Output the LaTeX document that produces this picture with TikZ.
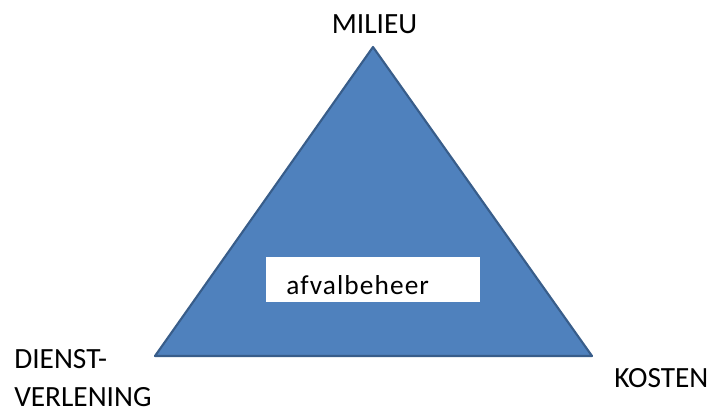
\documentclass[tikz,border=0pt]{standalone}
\usepackage{fontspec}
\setmainfont{Carlito}
\definecolor{triFill}{HTML}{4F81BD}
\definecolor{triEdge}{HTML}{385D8A}
\begin{document}
\begin{tikzpicture}[x=0.75pt,y=-0.75pt,
  corner label/.style={font=\fontsize{22}{30}\selectfont, inner sep=0pt, text=black},
  tri/.style={fill=triFill, draw=triEdge, line width=1.6pt, line join=round},
  whitebox/.style={fill=white, draw=none, minimum width=160.5pt, minimum height=33.75pt, inner sep=0pt},
  boxtext/.style={font=\fontsize{20.5}{24}\selectfont\addfontfeatures{LetterSpace=4}, inner sep=0pt}]
\useasboundingbox (0,0) rectangle (717,412);
\coordinate (apex) at (373,47);
\coordinate (bl) at (155,356);
\coordinate (br) at (592,356);
\draw[tri] (apex) -- (br) -- (bl) -- cycle;
\node[whitebox] (box) at (373,279.5) {};
\node[boxtext, anchor=base west] (boxlabel) at (286,294) {afvalbeheer};
\node[corner label, anchor=base] (milieu) at (374.5,33) {MILIEU};
\node[corner label, anchor=base west] (dienst) at (14,368) {DIENST-};
\node[corner label, anchor=base west] (verlening) at (14,406.5) {VERLENING};
\node[corner label, anchor=base west] (kosten) at (614,387) {KOSTEN};
\end{tikzpicture}
\end{document}
